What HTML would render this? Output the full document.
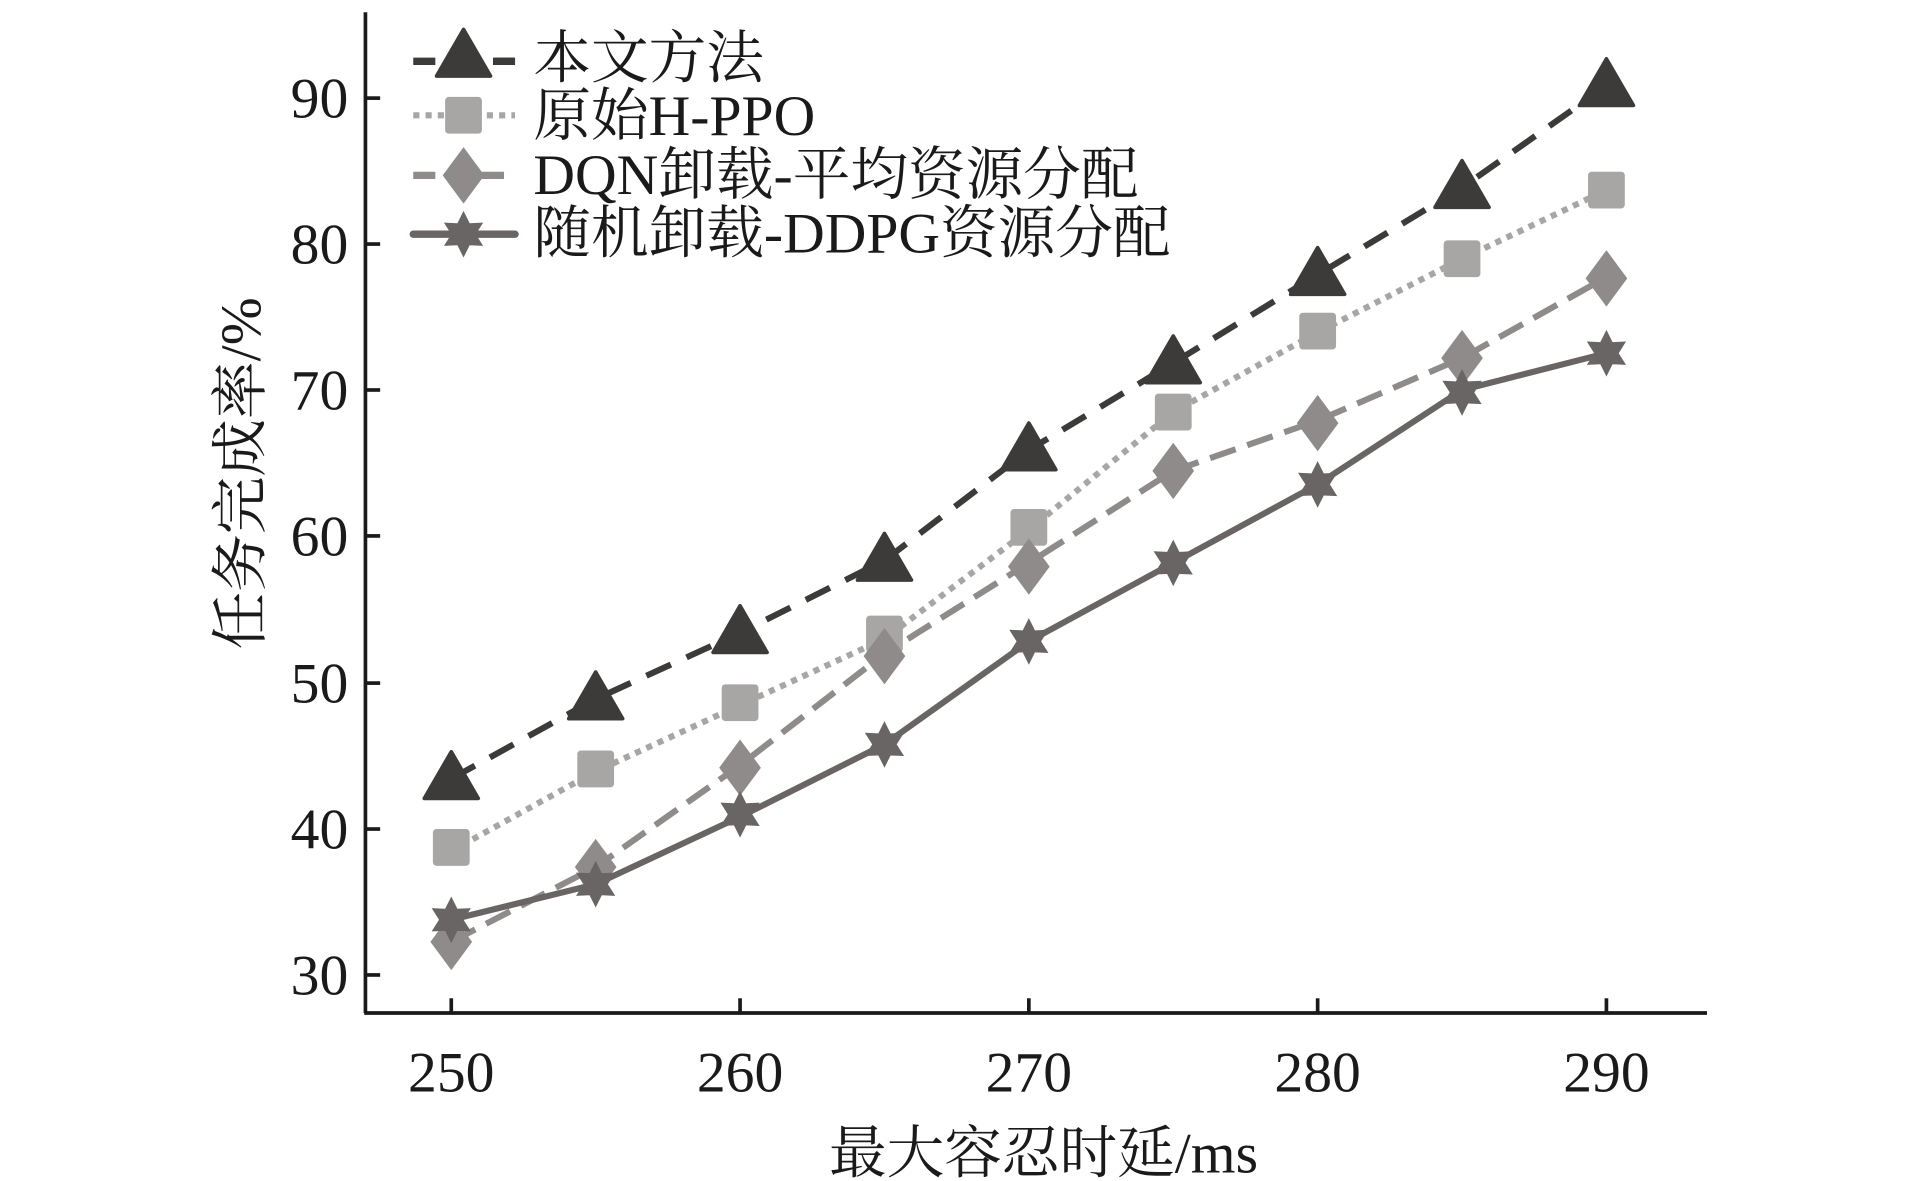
<!DOCTYPE html>
<html><head><meta charset="utf-8"><style>
html,body{margin:0;padding:0;background:#fff;}
svg{display:block;}
text{font-family:"Liberation Serif","Noto Serif CJK SC",serif;fill:#1a1a1a;}
</style></head><body>
<svg width="1913" height="1181" viewBox="0 0 1560 963" preserveAspectRatio="none" xmlns="http://www.w3.org/2000/svg">
<defs>
<path id="tri" d="M0,-22 L22,16 L-22,16 Z" stroke-linejoin="round"/>
<rect id="sq" x="-15" y="-15" width="30" height="30" rx="3"/>
<path id="dia" d="M0,-23 L17,0 L0,23 L-17,0 Z"/>
<path id="star" d="M0,-19 L5,-9 L16,-9.5 L10,0 L16,9.5 L5,9 L0,19 L-5,9 L-16,9.5 L-10,0 L-16,-9.5 L-5,-9 Z"/>
</defs>
<line x1="298" y1="10" x2="298" y2="826" stroke="#1a1a1a" stroke-width="3"/>
<line x1="297" y1="826" x2="1392" y2="826" stroke="#1a1a1a" stroke-width="3"/>
<g stroke="#1a1a1a" stroke-width="3">
<line x1="298" y1="795" x2="310" y2="795"/><line x1="298" y1="676" x2="310" y2="676"/>
<line x1="298" y1="557" x2="310" y2="557"/><line x1="298" y1="437" x2="310" y2="437"/>
<line x1="298" y1="318" x2="310" y2="318"/><line x1="298" y1="199" x2="310" y2="199"/>
<line x1="298" y1="80" x2="310" y2="80"/>
<line x1="368" y1="826" x2="368" y2="814"/><line x1="603.5" y1="826" x2="603.5" y2="814"/>
<line x1="839" y1="826" x2="839" y2="814"/><line x1="1074.5" y1="826" x2="1074.5" y2="814"/>
<line x1="1310" y1="826" x2="1310" y2="814"/>
</g>
<g font-size="47" text-anchor="end">
<text x="284" y="811">30</text><text x="284" y="692">40</text><text x="284" y="573">50</text>
<text x="284" y="453">60</text><text x="284" y="334">70</text><text x="284" y="215">80</text>
<text x="284" y="96">90</text>
</g>
<g font-size="47" text-anchor="middle">
<text x="368" y="890">250</text><text x="603.5" y="890">260</text><text x="839" y="890">270</text>
<text x="1074.5" y="890">280</text><text x="1310" y="890">290</text>
</g>
<text x="851" y="956" font-size="47" text-anchor="middle">最大容忍时延/ms</text>
<text transform="translate(212,386) rotate(-90)" font-size="47" text-anchor="middle">任务完成率/%</text>

<polyline fill="none" stroke="#3d3a3a" stroke-width="5" stroke-dasharray="22,14"
 points="368,635 485.75,570 603.5,516 721.25,457 839,367 956.75,296 1074.5,224 1192.25,153 1310,70"/>
<polyline fill="none" stroke="#a8a5a5" stroke-width="5" stroke-dasharray="5,5"
 points="368,694 485.75,629 603.5,575 721.25,521 839,432 956.75,336 1074.5,271 1192.25,211 1310,155"/>
<polyline fill="none" stroke="#8f8b8b" stroke-width="5" stroke-dasharray="22,10"
 points="368,768 485.75,707 603.5,624 721.25,533 839,459 956.75,384 1074.5,343 1192.25,292 1310,226"/>
<polyline fill="none" stroke="#6a6565" stroke-width="5"
 points="368,750 485.75,721 603.5,666 721.25,607 839,523 956.75,459 1074.5,395 1192.25,318 1310,288"/>
<g fill="#3d3a3a" stroke="#3d3a3a" stroke-width="3">
<use href="#tri" x="368" y="635"/><use href="#tri" x="485.75" y="570"/><use href="#tri" x="603.5" y="516"/>
<use href="#tri" x="721.25" y="457"/><use href="#tri" x="839" y="367"/><use href="#tri" x="956.75" y="296"/>
<use href="#tri" x="1074.5" y="224"/><use href="#tri" x="1192.25" y="153"/><use href="#tri" x="1310" y="70"/>
</g>
<g fill="#a8a5a5">
<use href="#sq" x="368" y="691"/><use href="#sq" x="485.75" y="627"/><use href="#sq" x="603.5" y="573"/>
<use href="#sq" x="721.25" y="517"/><use href="#sq" x="839" y="430"/><use href="#sq" x="956.75" y="336"/>
<use href="#sq" x="1074.5" y="270"/><use href="#sq" x="1192.25" y="211"/><use href="#sq" x="1310" y="155"/>
</g>
<g fill="#8f8b8b">
<use href="#dia" x="368" y="768"/><use href="#dia" x="485.75" y="707"/><use href="#dia" x="603.5" y="626"/>
<use href="#dia" x="721.25" y="535"/><use href="#dia" x="839" y="462"/><use href="#dia" x="956.75" y="384"/>
<use href="#dia" x="1074.5" y="345"/><use href="#dia" x="1192.25" y="292"/><use href="#dia" x="1310" y="227"/>
</g>
<g fill="#6a6565">
<use href="#star" x="368" y="750"/><use href="#star" x="485.75" y="721"/><use href="#star" x="603.5" y="664"/>
<use href="#star" x="721.25" y="607"/><use href="#star" x="839" y="523"/><use href="#star" x="956.75" y="459"/>
<use href="#star" x="1074.5" y="395"/><use href="#star" x="1192.25" y="320"/><use href="#star" x="1310" y="288"/>
</g>

<line x1="337" y1="50" x2="420" y2="50" stroke="#3d3a3a" stroke-width="6" stroke-dasharray="18,47"/>
<line x1="337" y1="50" x2="420" y2="50" stroke="#3d3a3a" stroke-width="6" stroke-dasharray="0,66,18,0"/>
<use href="#tri" x="378" y="46" fill="#3d3a3a" stroke="#3d3a3a" stroke-width="3"/>
<line x1="337" y1="94" x2="420" y2="94" stroke="#a8a5a5" stroke-width="5" stroke-dasharray="5,5"/>
<use href="#sq" x="378" y="94" fill="#a8a5a5"/>
<line x1="337" y1="143" x2="420" y2="143" stroke="#8f8b8b" stroke-width="6" stroke-dasharray="18,10"/>
<use href="#dia" x="378" y="143" fill="#8f8b8b"/>
<line x1="337" y1="191" x2="420" y2="191" stroke="#6a6565" stroke-width="6" stroke-linecap="round"/>
<use href="#star" x="378" y="191" fill="#6a6565"/>
<g font-size="47">
<text x="435" y="63">本文方法</text>
<text x="435" y="110">原始H-PPO</text>
<text x="435" y="158">DQN卸载-平均资源分配</text>
<text x="435" y="206">随机卸载-DDPG资源分配</text>
</g>
</svg>
</body></html>
